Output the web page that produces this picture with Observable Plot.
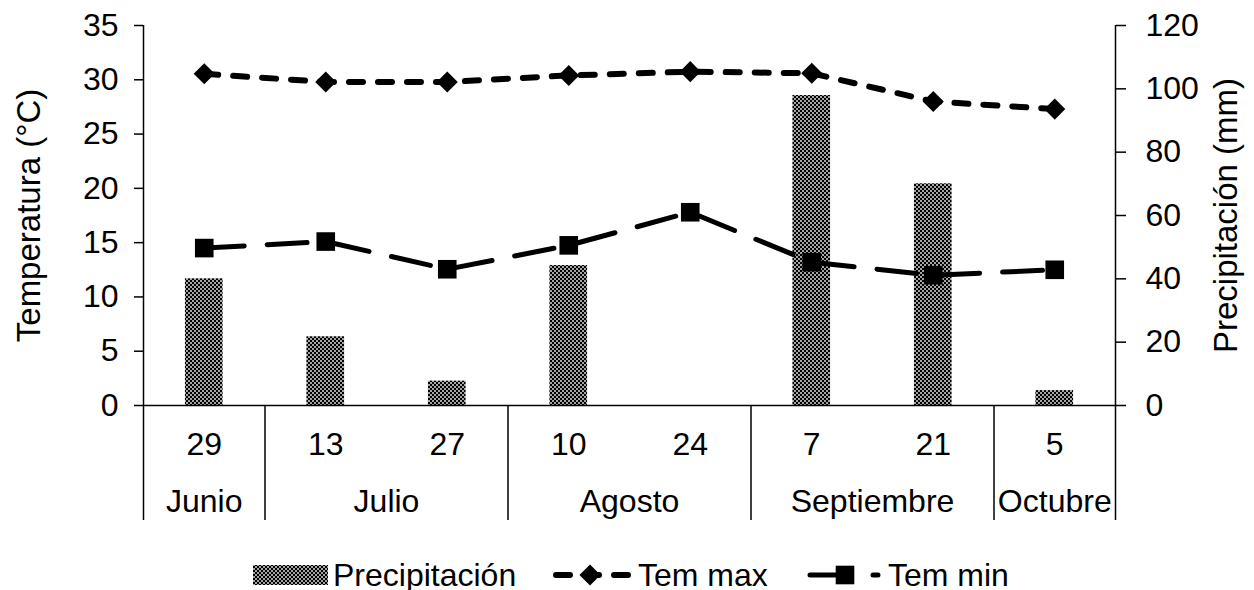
<!DOCTYPE html>
<html><head><meta charset="utf-8">
<script src="https://cdn.jsdelivr.net/npm/d3@7"></script>
<script src="https://cdn.jsdelivr.net/npm/@observablehq/plot@0.6"></script>
<style>
body{margin:0;background:#fff;font-family:"Liberation Sans",Arial,sans-serif;}
#wrap{width:1254px;}
#legend{position:relative;width:1254px;height:55px;font-size:32px;color:#000;}
.item{position:absolute;top:24px;height:32px;display:flex;align-items:center;white-space:nowrap;}
.item svg{display:block;}
</style></head><body><div id="wrap"><div id="chart"></div><div id="legend"></div></div>
<script>
// ---- data ----
const days = ["29", "13", "27", "10", "24", "7", "21", "5"];
const monthNames = ["Junio", "Julio", "Agosto", "Septiembre", "Octubre"];
const monthSpan = [1, 2, 2, 2, 1];
const precipitacion = [40, 21.7, 7.7, 44.2, 0, 97.9, 70, 4.7];
const temMax = [30.55, 29.8, 29.8, 30.4, 30.75, 30.6, 28.0, 27.3];
const temMin = [14.5, 15.1, 12.55, 14.75, 17.8, 13.2, 12.0, 12.5];
const tempTicks = [0, 5, 10, 15, 20, 25, 30, 35];
const precipTicks = [0, 20, 40, 60, 80, 100, 120];
const tempLabel = "Temperatura (°C)";
const precipLabel = "Precipitación (mm)";
const seriesNames = ["Precipitación", "Tem max", "Tem min"];

// ---- derived ----
const TMAX = tempTicks[tempTicks.length - 1], PMAX = precipTicks[precipTicks.length - 1];
const toTemp = p => p * TMAX / PMAX;
const toPrecip = t => t * PMAX / TMAX;
const rows = days.map((d, i) => ({i, day: d, precip: precipitacion[i], max: temMax[i], min: temMin[i]}));
const boundaries = [-0.5];
const monthCenters = new Map();
let start = 0;
monthSpan.forEach((s, k) => {
  monthCenters.set(start + (s - 1) / 2, monthNames[k]);
  start += s;
  boundaries.push(start - 0.5);
});

const FONT = '"Liberation Sans", Arial, sans-serif';
const half = 0.155;
const maxDash = "14,15", minDash = "40,23";

const chart = Plot.plot({
  width: 1254, height: 535,
  marginTop: 25, marginBottom: 130, marginLeft: 143, marginRight: 139,
  style: {fontFamily: FONT, fontSize: "32px", color: "#000", background: "#fff", overflow: "visible"},
  x: {type: "linear", domain: [-0.5, days.length - 0.5], label: null},
  y: {domain: [0, TMAX], label: null},
  marks: [
    Plot.rect(rows.filter(d => d.precip > 0), {x1: d => d.i - half, x2: d => d.i + half, y1: 0, y2: d => toTemp(d.precip), fill: "url(#chk)"}),
    Plot.line(rows, {x: "i", y: "max", stroke: "#000", strokeWidth: 6, strokeDasharray: maxDash, strokeLinecap: "round", strokeLinejoin: "round"}),
    Plot.dot(rows, {x: "i", y: "max", symbol: "diamond2", r: 9.5, fill: "#000"}),
    Plot.line(rows, {x: "i", y: "min", stroke: "#000", strokeWidth: 5, strokeDasharray: minDash, strokeLinecap: "round", strokeLinejoin: "round"}),
    Plot.dot(rows, {x: "i", y: "min", symbol: "square", r: 10.5, fill: "#000"}),
    Plot.ruleY([0], {stroke: "#000", strokeWidth: 1.5}),
    Plot.ruleX([-0.5, days.length - 0.5], {y1: 0, y2: TMAX, stroke: "#000", strokeWidth: 1.5}),
    Plot.axisY(tempTicks, {anchor: "left", label: null, tickSize: 9, tickPadding: 16, strokeWidth: 1.5, tickFormat: d => String(d)}),
    Plot.axisY(precipTicks.map(toTemp), {anchor: "right", label: null, tickSize: 10, tickPadding: 20, strokeWidth: 1.5, tickFormat: d => String(Math.round(toPrecip(d)))}),
    Plot.axisX(boundaries, {anchor: "bottom", label: null, tickSize: 115, strokeWidth: 1.5, tickFormat: () => ""}),
    Plot.axisX(rows.map(d => d.i), {anchor: "bottom", label: null, tickSize: 0, tickPadding: 27, tickFormat: i => days[i]}),
    Plot.axisX([...monthCenters.keys()], {anchor: "bottom", label: null, tickSize: 0, tickPadding: 84, tickFormat: c => monthCenters.get(c)}),
    Plot.text([tempLabel], {frameAnchor: "left", dx: -114, rotate: -90, text: d => d, textAnchor: "middle", lineAnchor: "middle", fontSize: 33}),
    Plot.text([precipLabel], {frameAnchor: "right", dx: 111, rotate: -90, text: d => d, textAnchor: "middle", lineAnchor: "middle", fontSize: 33})
  ]
});

function addChecker(svgSel, id) {
  const p = svgSel.insert("defs", ":first-child").append("pattern")
    .attr("id", id).attr("patternUnits", "userSpaceOnUse").attr("width", 4).attr("height", 4);
  p.append("rect").attr("width", 4).attr("height", 4).attr("fill", "#000");
  p.append("rect").attr("x", 0.2).attr("y", 0.2).attr("width", 1.6).attr("height", 1.6).attr("fill", "#fff");
  p.append("rect").attr("x", 2.2).attr("y", 2.2).attr("width", 1.6).attr("height", 1.6).attr("fill", "#fff");
}
addChecker(d3.select(chart), "chk");
document.getElementById("chart").appendChild(chart);

// ---- legend ----
const leg = d3.select("#legend");
const area = r => Math.PI * r * r;
function item(left, draw, label) {
  const it = leg.append("div").attr("class", "item").style("left", left + "px");
  const s = it.append("svg").attr("width", 80).attr("height", 30);
  draw(s);
  it.append("span").style("margin-left", "5px").text(label);
}
item(253, s => {
  s.attr("width", 75);
  addChecker(s, "chk2");
  s.append("rect").attr("x", 0).attr("y", 5).attr("width", 75).attr("height", 20).attr("fill", "url(#chk2)");
}, seriesNames[0]);
item(553, s => {
  s.append("line").attr("x1", 3).attr("x2", 77).attr("y1", 15).attr("y2", 15)
    .attr("stroke", "#000").attr("stroke-width", 6).attr("stroke-dasharray", maxDash).attr("stroke-linecap", "round");
  s.append("path").attr("transform", "translate(37,15)").attr("d", d3.symbol(d3.symbolDiamond2, area(9.5))()).attr("fill", "#000");
}, seriesNames[1]);
item(803, s => {
  s.append("line").attr("x1", 7).attr("x2", 75).attr("y1", 15).attr("y2", 15)
    .attr("stroke", "#000").attr("stroke-width", 5).attr("stroke-dasharray", minDash).attr("stroke-linecap", "round");
  s.append("path").attr("transform", "translate(42,15)").attr("d", d3.symbol(d3.symbolSquare, area(10.5))()).attr("fill", "#000");
}, seriesNames[2]);
</script></body></html>
